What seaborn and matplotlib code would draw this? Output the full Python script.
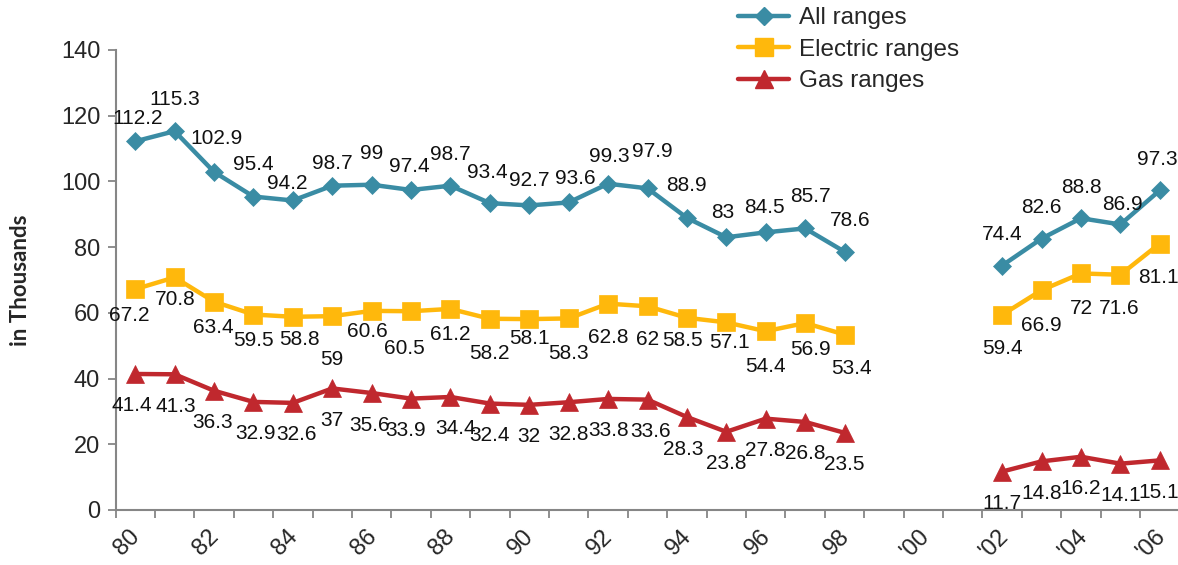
import pandas as pd
import seaborn as sns
import matplotlib.pyplot as plt
import matplotlib.transforms as mtransforms
from matplotlib.lines import Line2D

# data
years = ['80', '81', '82', '83', '84', '85', '86', '87', '88', '89', '90', '91', '92',
         '93', '94', '95', '96', '97', '98', '99', '00', '01', '02', '03', '04', '05', '06']
all_ranges = [112.2, 115.3, 102.9, 95.4, 94.2, 98.7, 99, 97.4, 98.7, 93.4, 92.7, 93.6, 99.3,
              97.9, 88.9, 83, 84.5, 85.7, 78.6, None, None, None, 74.4, 82.6, 88.8, 86.9, 97.3]
electric = [67.2, 70.8, 63.4, 59.5, 58.8, 59, 60.6, 60.5, 61.2, 58.2, 58.1, 58.3, 62.8,
            62, 58.5, 57.1, 54.4, 56.9, 53.4, None, None, None, 59.4, 66.9, 72, 71.6, 81.1]
gas = [41.4, 41.3, 36.3, 32.9, 32.6, 37, 35.6, 33.9, 34.4, 32.4, 32, 32.8, 33.8,
       33.6, 28.3, 23.8, 27.8, 26.8, 23.5, None, None, None, 11.7, 14.8, 16.2, 14.1, 15.1]
series_names = ['All ranges', 'Electric ranges', 'Gas ranges']

# label offsets in pixels (dx, dy with dy measured downwards)
all_dx = [2, 0, 2, 0, -6, 0, 0, -2, 0, -3, 0, 7, 1, 5, 0, -4, -1, 5, 6, 0, 0, 0, 0, 0, 0, 2, -2]
all_dy = [-23, -32, -33, -32, -17, -22, -31, -23, -31, -31, -25, -24, -27, -37, -32, -25, -25,
          -32, -31, 0, 0, 0, -31, -31, -31, -20, -31]
el_dx = [-6, 1, -1, 0, 7, 0, -4, -7, 0, 0, 0, 0, 0, 0, -4, 3, 0, 5, 7, 0, 0, 0, 0, 0, 0, -1, -1]
el_dy = [26, 22, 26, 26, 23, 43, 21, 37, 26, 35, 19, 35, 34, 33, 23, 20, 35, 26, 34, 0, 0, 0,
         34, 35, 35, 34, 34]
gas_dx = [-3, 1, -1, 2, 4, 0, -2, -5, 5, 0, 0, 0, 0, 3, -4, 0, 0, 0, 0, 0, 0, 0, 0, 0, 0, 0, -1]
gas_dy = [32] * len(years)

colors = ['#3A8CA4', '#FFB80C', '#C0282E']
markers = ['D', 's', '^']
msizes = [9.5, 13.5, 13]

sns.set_style('white')
plt.rcParams['font.family'] = ['Liberation Sans', 'DejaVu Sans']

pos = list(range(len(years)))
seg = [0 if i < 19 else 1 for i in pos]

fig = plt.figure(figsize=(11.78, 5.65), dpi=100)
ax = fig.add_axes([115.5 / 1178, 55 / 565, 1064 / 1178, 460 / 565])

handles = []
for name, vals, c, m, ms, dxs, dys in zip(series_names, [all_ranges, electric, gas], colors, markers,
                                          msizes, [all_dx, el_dx, gas_dx], [all_dy, el_dy, gas_dy]):
    df = pd.DataFrame({'x': pos, 'v': vals, 'seg': seg}).dropna()
    sns.lineplot(data=df, x='x', y='v', units='seg', estimator=None, color=c, lw=3.2,
                 marker=m, markersize=ms, markeredgecolor=c, markeredgewidth=0.5, ax=ax, legend=False)
    for x, v in zip(df['x'], df['v']):
        ax.annotate(f'{v:g}', (x, v), xytext=(dxs[x], -dys[x]), textcoords='offset pixels',
                    ha='center', va='center', fontsize=15, color='#111111')
    handles.append(Line2D([], [], color=c, lw=3.2, marker=m, markersize=ms * 0.95,
                          markeredgecolor=c, label=name))

ax.set_xlim(-0.5, len(years) - 0.5)
ax.set_ylim(0, 140)
ax.set_yticks(range(0, 141, 20))
ax.tick_params(axis='y', labelsize=17, length=6, width=1.3, color='#868686', pad=5, left=True)

tick_pos = pos[::2]
tick_labels = [y if int(y) >= 80 else "'" + y for y in years[::2]]
ax.set_xticks(tick_pos, tick_labels, rotation=45, ha='center', va='top')
ax.set_xticks([p - 0.5 for p in pos] + [len(years) - 0.5], minor=True)
ax.tick_params(axis='x', which='major', length=0, labelsize=17, pad=11)
ax.tick_params(axis='x', which='minor', length=6, width=1.3, color='#868686', bottom=True)
shift = mtransforms.ScaledTranslation(-8 / 100, 0, fig.dpi_scale_trans)
for lab in ax.get_xticklabels():
    lab.set_transform(lab.get_transform() + shift)

for s in ['top', 'right']:
    ax.spines[s].set_visible(False)
for s in ['left', 'bottom']:
    ax.spines[s].set_color('#868686')
    ax.spines[s].set_linewidth(1.5)

ax.set_xlabel('')
ax.set_ylabel('in Thousands', fontsize=16, fontweight='bold', family=['Lato', 'DejaVu Sans'],
              va='center')
ax.yaxis.set_label_coords((21 - 115.5) / 1064, 0.5)

fig.legend(handles=handles, loc='upper left', bbox_to_anchor=(738 / 1178, 1 - 7 / 565),
           frameon=False, fontsize=17.5, handlelength=2.1, handletextpad=0.4,
           labelspacing=0.4, borderpad=0, borderaxespad=0)

plt.savefig('out.png', dpi=100)
